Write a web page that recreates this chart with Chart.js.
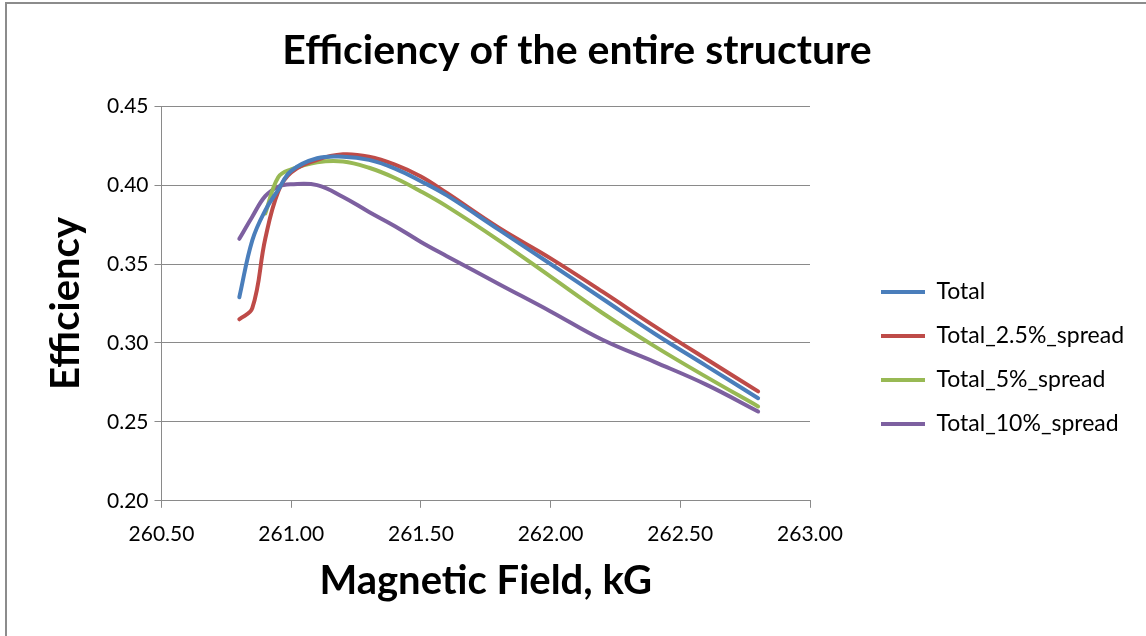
<!DOCTYPE html>
<html>
<head>
<meta charset="utf-8">
<script src="https://cdn.jsdelivr.net/npm/chart.js@4"></script>
<style>
  html, body { margin: 0; padding: 0; background: #fff; }
  #wrap { position: relative; width: 1146px; height: 636px; overflow: hidden; }
  #frame { position: absolute; left: 5px; top: 2px; width: 1200px; height: 700px;
           border-left: 2px solid #8c8c8c; border-top: 2px solid #8c8c8c; pointer-events: none; }
</style>
</head>
<body>
<div id="wrap">
  <canvas id="chartCanvas" width="1146" height="636"></canvas>
  <div id="frame"></div>
</div>
<script>
// magnetic field, kG
const fields = [260.80, 260.85, 260.90, 260.95, 261.00, 261.10, 261.20, 261.30, 261.40,
  261.50, 261.60, 261.80, 262.00, 262.20, 262.40, 262.60, 262.80];

const total = [0.329, 0.365, 0.384, 0.397, 0.409, 0.417, 0.418, 0.416, 0.4105,
  0.4025, 0.3935, 0.3718, 0.350, 0.328, 0.306, 0.2855, 0.265];
const total25 = [0.315, 0.322, 0.366, 0.396, 0.408, 0.416, 0.4195, 0.418, 0.413,
  0.4055, 0.3950, 0.373, 0.3536, 0.3325, 0.3107, 0.2898, 0.2693];
const total5 = [null, null, 0.382, 0.405, 0.410, 0.4145, 0.415, 0.411, 0.4045,
  0.396, 0.3865, 0.365, 0.342, 0.319, 0.298, 0.2785, 0.2598];
const total10 = [0.366, 0.380, 0.393, 0.399, 0.4005, 0.400, 0.3925, 0.383, 0.374,
  0.364, 0.355, 0.3374, 0.320, 0.302, 0.288, 0.2736, 0.2566];

const seriesNames = ["Total", "Total_2.5%_spread", "Total_5%_spread", "Total_10%_spread"];
const seriesValues = [total, total25, total5, total10];
const colors = ["#4a7ebb", "#be4b48", "#98b954", "#7d60a0"];

const xTicks = [260.5, 261.0, 261.5, 262.0, 262.5, 263.0];
const yTicks = [0.20, 0.25, 0.30, 0.35, 0.40, 0.45];

const font = "Lato, 'Open Sans', sans-serif";
const gridColor = "#8a8a8a";

const datasets = seriesNames.map((name, i) => ({
  label: name,
  data: fields.map((f, j) => ({ x: f, y: seriesValues[i][j] })),
  borderColor: colors[i],
  backgroundColor: colors[i],
  borderWidth: 4,
  borderCapStyle: "round",
  borderJoinStyle: "round",
  pointRadius: 0,
  showLine: true,
  tension: 0.4,
  spanGaps: false
}));

// legend sits on the right with a wider gap from the plot than Chart.js gives
const legendPlace = {
  id: "legendPlace",
  beforeLayout(chart) {
    const lg = chart.legend;
    if (lg && !lg._patched) {
      const fit = lg.fit;
      lg.fit = function () {
        fit.call(this);
        this.width = 298;
      };
      lg._patched = true;
    }
  },
  afterLayout(chart) {
    const lg = chart.legend;
    lg.left += 50;
    lg.right += 50;
    lg.top = 259.5;
    lg.bottom = 636;
  }
};

const ctx = document.getElementById("chartCanvas").getContext("2d");
new Chart(ctx, {
  type: "scatter",
  data: { datasets: datasets },
  plugins: [legendPlace],
  options: {
    responsive: false,
    animation: false,
    layout: { padding: { left: 46, right: 38, top: 8, bottom: 35 } },
    plugins: {
      title: {
        display: true,
        text: "Efficiency of the entire structure",
        color: "#000",
        font: { family: font, size: 41, weight: "bold" },
        padding: { top: 18, bottom: 31 }
      },
      legend: {
        display: true,
        position: "right",
        align: "start",
        labels: {
          color: "#000",
          font: { family: font, size: 23 },
          usePointStyle: true,
          pointStyle: "line",
          pointStyleWidth: 44,
          boxWidth: 44,
          boxHeight: 4,
          padding: 21
        }
      },
      tooltip: { enabled: false }
    },
    scales: {
      x: {
        type: "linear",
        min: 260.5,
        max: 263.0,
        afterBuildTicks: (scale) => { scale.ticks = xTicks.map(v => ({ value: v })); },
        ticks: {
          color: "#000",
          font: { family: font, size: 21 },
          padding: 14,
          callback: (v) => v.toFixed(2)
        },
        grid: { drawOnChartArea: false, color: gridColor, tickLength: 7, lineWidth: 1 },
        border: { color: gridColor, width: 1 },
        title: {
          display: true,
          text: "Magnetic Field, kG",
          color: "#000",
          font: { family: font, size: 40, weight: "bold", lineHeight: 1 },
          padding: { top: 0, bottom: 0 }
        }
      },
      y: {
        type: "linear",
        min: 0.20,
        max: 0.45,
        afterBuildTicks: (scale) => { scale.ticks = yTicks.map(v => ({ value: v })); },
        ticks: {
          color: "#000",
          font: { family: font, size: 21 },
          padding: 6,
          callback: (v) => v.toFixed(2)
        },
        grid: { color: gridColor, tickLength: 7, lineWidth: 1 },
        border: { color: gridColor, width: 1 },
        title: {
          display: true,
          text: "Efficiency",
          color: "#000",
          font: { family: font, size: 40, weight: "bold", lineHeight: 1 },
          padding: { top: 0, bottom: 15 }
        }
      }
    }
  }
});
</script>
</body>
</html>
